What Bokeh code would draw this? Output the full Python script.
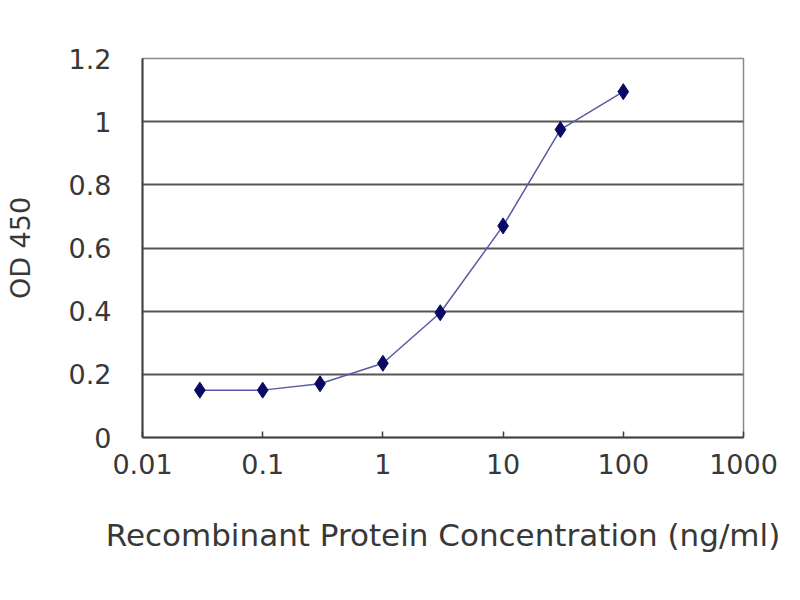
from bokeh.plotting import figure
from bokeh.models import Range1d, FixedTicker
from bokeh.embed import file_html
from bokeh.resources import INLINE

# Data
concentration = [0.03, 0.1, 0.3, 1, 3, 10, 30, 100]
od450 = [0.15, 0.15, 0.17, 0.235, 0.395, 0.67, 0.975, 1.095]

x_ticks = [0.01, 0.1, 1, 10, 100, 1000]
x_tick_labels = ["0.01", "0.1", "1", "10", "100", "1000"]
y_ticks = [0, 0.2, 0.4, 0.6, 0.8, 1.0, 1.2]
y_tick_labels = ["0", "0.2", "0.4", "0.6", "0.8", "1", "1.2"]

FONT = "DejaVu Sans"
TEXT = "#383838"

p = figure(
    width=784, height=584,
    x_axis_type="log",
    x_range=Range1d(0.01, 1000), y_range=Range1d(0, 1.2),
    output_backend="svg", toolbar_location=None,
    min_border_left=142, min_border_right=41,
    min_border_top=58, min_border_bottom=147,
)
p.background_fill_color = "white"
p.border_fill_color = "white"
p.outline_line_color = "#8a8a8a"
p.outline_line_width = 1.5

# curve and points
p.line(concentration, od450, line_color="#5a5aa8", line_width=1.5)
p.scatter(concentration, od450, marker="diamond", size=16,
          fill_color="#0a0a66", line_color="#0a0a66")

# x axis
p.xaxis.ticker = FixedTicker(ticks=x_ticks)
p.xaxis.major_label_overrides = dict(zip(x_ticks, x_tick_labels))
p.xaxis.minor_tick_line_color = None
p.xaxis.major_tick_in = 6
p.xaxis.major_tick_out = 0
p.xaxis.major_tick_line_color = "#404040"
p.xaxis.major_tick_line_width = 1.5
p.xaxis.axis_line_color = "#404040"
p.xaxis.axis_line_width = 2
p.xaxis.major_label_standoff = 16
p.xaxis.major_label_text_font_size = "27px"
p.xaxis.axis_label = "Recombinant Protein Concentration (ng/ml)"
p.xaxis.axis_label_text_font_size = "31px"
p.xaxis.axis_label_standoff = 40

# y axis
p.yaxis.ticker = FixedTicker(ticks=y_ticks)
p.yaxis.major_label_overrides = dict(zip(y_ticks, y_tick_labels))
p.yaxis.minor_tick_line_color = None
p.yaxis.major_tick_in = 0
p.yaxis.major_tick_out = 0
p.yaxis.axis_line_color = "#404040"
p.yaxis.axis_line_width = 2
p.yaxis.major_label_standoff = 31
p.yaxis.major_label_text_font_size = "27px"
p.yaxis.axis_label = "OD 450"
p.yaxis.axis_label_text_font_size = "27px"
p.yaxis.axis_label_standoff = 30

for ax in (p.xaxis, p.yaxis):
    ax.major_label_text_font = FONT
    ax.major_label_text_color = TEXT
    ax.axis_label_text_font = FONT
    ax.axis_label_text_font_style = "normal"
    ax.axis_label_text_color = TEXT

p.xgrid.grid_line_color = None
p.ygrid.ticker = FixedTicker(ticks=y_ticks)
p.ygrid.grid_line_color = "#555555"
p.ygrid.grid_line_width = 2

open("out.html", "w").write(file_html(p, INLINE))
